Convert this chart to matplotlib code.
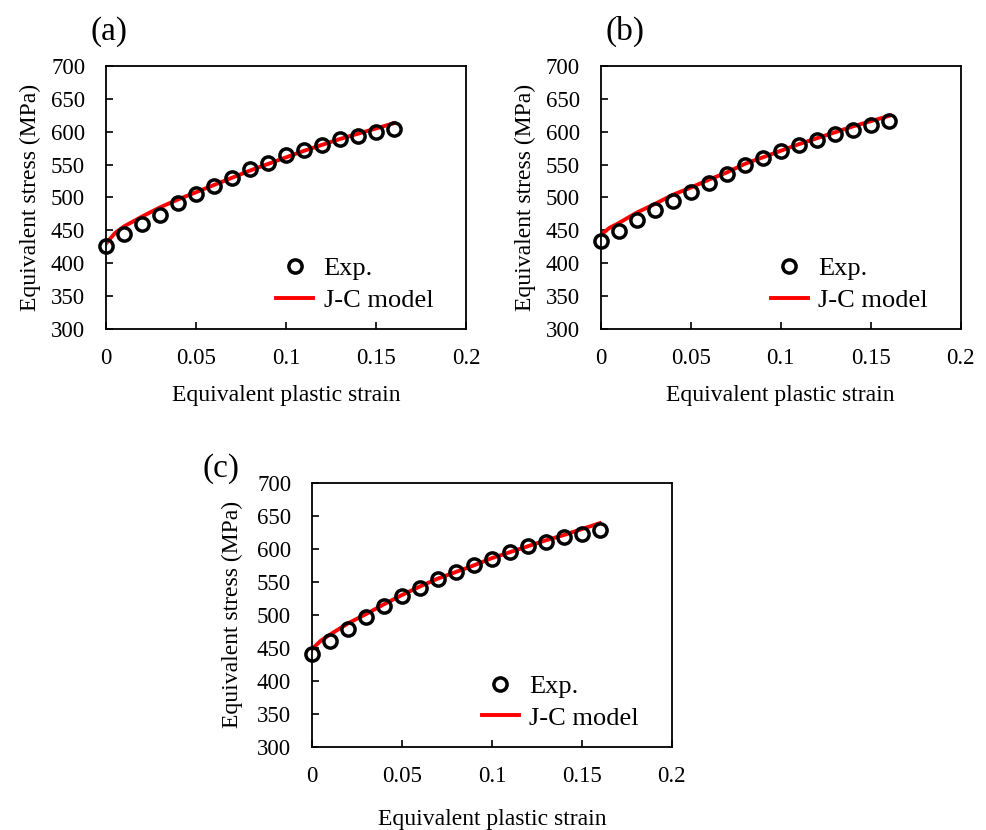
import matplotlib
matplotlib.use('Agg')
import matplotlib.pyplot as plt

plt.rcParams['font.family'] = ['Liberation Serif', 'DejaVu Serif']

# Equivalent plastic strain of the experimental points
strain_exp = [0, 0.01, 0.02, 0.03, 0.04, 0.05, 0.06, 0.07, 0.08,
              0.09, 0.10, 0.11, 0.12, 0.13, 0.14, 0.15, 0.16]
# strain where the J-C curve was read
strain_jc = [0, 0.005, 0.01, 0.02, 0.03, 0.04, 0.05, 0.06, 0.07, 0.08,
             0.09, 0.10, 0.11, 0.12, 0.13, 0.14, 0.15, 0.16]

# (a)
exp_a = [427, 444, 459, 474, 491, 505, 517, 530, 543,
         553, 564, 572, 580, 589, 594, 599, 604]
jc_a = [430, 446, 456, 471, 485, 497, 508, 519, 530, 541,
        551, 561, 571, 580, 589, 597, 605, 613]
# (b)
exp_b = [434, 449, 466, 481, 495, 509, 522, 535, 549,
         560, 570, 580, 588, 596, 603, 610, 616]
jc_b = [443, 454, 461, 477, 490, 504, 515, 527, 538, 551,
        561, 571, 581, 590, 599, 608, 616, 624]
# (c)
exp_c = [441, 461, 479, 496, 513, 528, 541, 554, 565,
         575, 585, 595, 604, 611, 618, 623, 629]
jc_c = [448, 461, 470, 487, 501, 516, 530, 543, 555, 565,
        575, 586, 595, 604, 613, 621, 630, 639]

xticks = [0, 0.05, 0.1, 0.15, 0.2]
xticklabels = ['0', '0.05', '0.1', '0.15', '0.2']
yticks = [300, 350, 400, 450, 500, 550, 600, 650, 700]

fig = plt.figure(figsize=(9.87, 8.30), dpi=100)


def panel(rect, exp, jc, tag, tag_xy, xlabelpad, ylabelpad):
    ax = fig.add_axes(rect)
    ax.plot(strain_jc, jc, color='#ff0000', lw=2.8, label='J-C model', zorder=2)
    ax.plot(strain_exp, exp, 'o', mfc='none', mec='black', mew=2.5, ms=9.5,
            label='Exp.', zorder=3, clip_on=False)
    ax.set_xlim(0, 0.2)
    ax.set_ylim(300, 700)
    ax.set_xticks(xticks)
    ax.set_xticklabels(xticklabels)
    ax.set_yticks(yticks)
    ax.tick_params(direction='in', length=5, width=1.2, labelsize=16.5)
    ax.tick_params(axis='x', pad=14)
    ax.tick_params(axis='y', pad=15)
    for s in ax.spines.values():
        s.set_linewidth(1.3)
    ax.set_xlabel('Equivalent plastic strain', fontsize=17, labelpad=xlabelpad)
    ax.set_ylabel('Equivalent stress (MPa)', fontsize=17, labelpad=ylabelpad)
    h, l = ax.get_legend_handles_labels()
    ax.legend(h[::-1], l[::-1], loc='lower right', bbox_to_anchor=(0.975, -0.025),
              frameon=False, fontsize=19, handlelength=1.4, handletextpad=0.4,
              labelspacing=0.3)
    fig.text(tag_xy[0], tag_xy[1], tag, fontsize=24, ha='center', va='center')
    return ax


panel([0.1074, 0.6036, 0.3647, 0.3169], exp_a, jc_a, '(a)', (0.110, 0.962), 11, 7)
panel([0.6086, 0.6036, 0.3647, 0.3169], exp_b, jc_b, '(b)', (0.633, 0.962), 11, 7)
panel([0.3161, 0.1004, 0.3644, 0.3177], exp_c, jc_c, '(c)', (0.224, 0.436), 16, 10)

fig.savefig('out.png', dpi=100, facecolor='white')
